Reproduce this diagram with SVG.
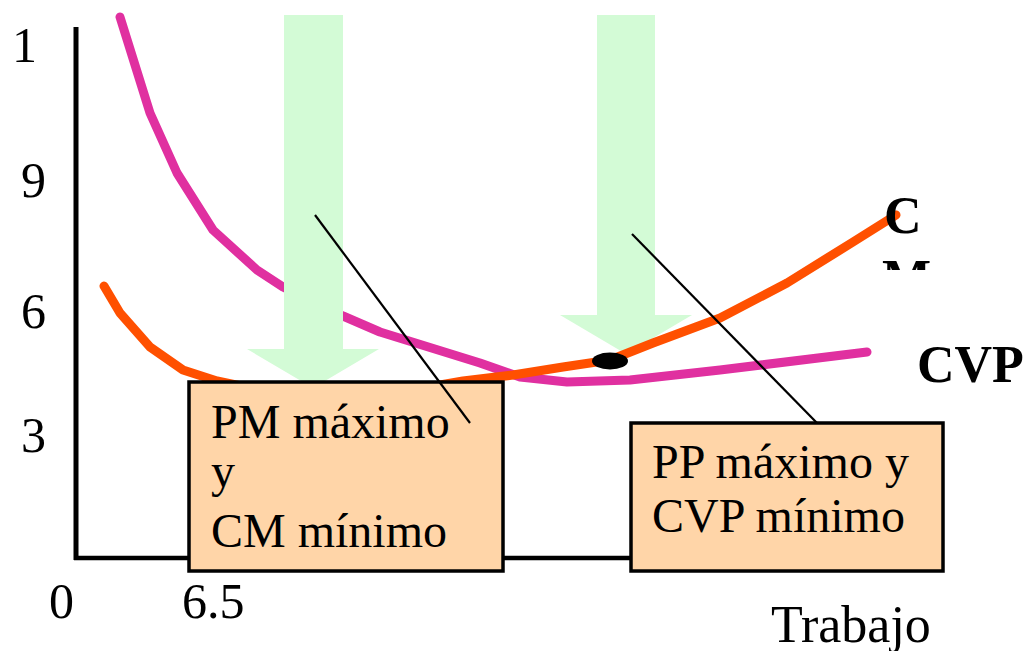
<svg xmlns="http://www.w3.org/2000/svg" width="1029" height="651" viewBox="0 0 1029 651">
<style>
.lbl{font-family:"Liberation Serif","Times New Roman",serif;font-size:50px;fill:#000}
.box{fill:#FFD5A8;stroke:#000;stroke-width:3.5}
.bt{font-family:"Liberation Serif","Times New Roman",serif;font-size:48px;fill:#000}
.bold{font-family:"Liberation Serif","Times New Roman",serif;font-size:52px;font-weight:bold;fill:#000}
.curve{fill:none;stroke-width:9;stroke-linecap:round;stroke-linejoin:round}
.arrow{fill:#D3FBD6}
.lead{stroke:#000;stroke-width:2.2;fill:none}
</style>
<defs>
<clipPath id="clipM"><rect x="860" y="240" width="120" height="30"/></clipPath>
</defs>
<rect width="1029" height="651" fill="#fff"/>
<g id="axes">
<line x1="76" y1="27" x2="76" y2="560" stroke="#000" stroke-width="5"/>
<line x1="74" y1="558" x2="640" y2="558" stroke="#000" stroke-width="4.5"/>
</g>
<g id="axis-labels">
<text class="lbl" x="12" y="62">1</text>
<text class="lbl" x="21" y="197">9</text>
<text class="lbl" x="21" y="328">6</text>
<text class="lbl" x="21" y="452">3</text>
<text class="lbl" x="49" y="618">0</text>
<text class="lbl" x="182" y="618">6.5</text>
<text class="lbl" x="771" y="642" style="font-size:52px">Trabajo</text>
</g>
<g id="curve-cvp">
<polyline class="curve" stroke="#E030A0" points="120,17 150,113 177,173 213,230 257,270 283,287 343,316 380,332 480,363 520,377 567,382 630,380 720,370 867,352"/>
</g>
<g id="arrows">
<polygon id="arrow-left" class="arrow" points="284,15 343,15 343,349 379,349 313,388 247,349 284,349"/>
<polygon id="arrow-right" class="arrow" points="597,15 655,15 655,315 692,315 626,354 560,315 597,315"/>
</g>
<g id="curve-cm">
<polyline class="curve" stroke="#FF5000" points="104,286 120,313 150,347 183,370 217,381 260,390 400,392 463,381 513,375 563,367 610,360 653,343 720,318 787,283 853,242 896,215"/>
</g>
<g id="point">
<ellipse cx="610" cy="361" rx="18" ry="8.5" fill="#000"/>
</g>
<g id="curve-labels">
<text class="bold" x="884" y="233">C</text>
<text class="bold" x="882" y="296" clip-path="url(#clipM)">M</text>
<text class="bold" x="917" y="382">CVP</text>
</g>
<g id="box-pm">
<rect class="box" x="189" y="382" width="314" height="189"/>
<text class="bt" x="211" y="438">PM máximo</text>
<text class="bt" x="211" y="487">y</text>
<text class="bt" x="211" y="547">CM mínimo</text>
</g>
<g id="box-pp">
<rect class="box" x="631" y="423" width="312" height="148"/>
<text class="bt" x="652" y="478">PP máximo y</text>
<text class="bt" x="652" y="532">CVP mínimo</text>
</g>
<g id="connectors">
<line class="lead" x1="315" y1="215" x2="470" y2="423"/>
<line class="lead" x1="632" y1="234" x2="817" y2="423"/>
</g>
</svg>
